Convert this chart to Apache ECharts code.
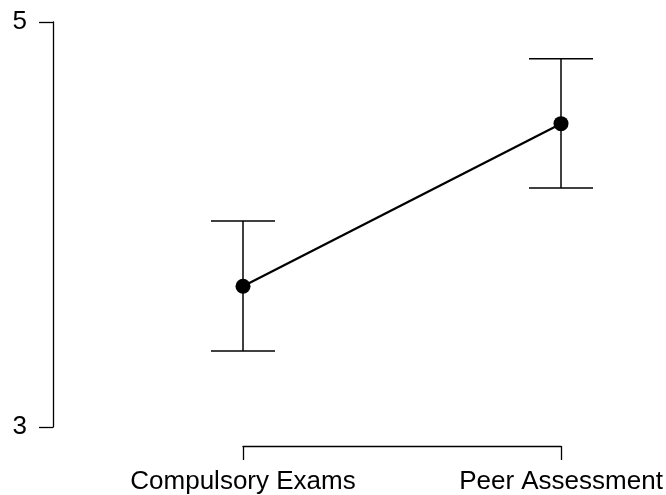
<!DOCTYPE html>
<html>
<head>
<meta charset="utf-8">
<script src="https://cdn.jsdelivr.net/npm/echarts@6/dist/echarts.min.js"></script>
<style>
  html, body { margin: 0; padding: 0; background: #fff; }
  #chart { width: 666px; height: 495px; }
</style>
</head>
<body>
<div id="chart"></div>
<script>
const categories = ['Compulsory Exams', 'Peer Assessment'];
const means = [3.695, 4.498];
const lowers = [3.375, 4.180];
const uppers = [4.017, 4.819];
const yTicks = [3, 5];

const chart = echarts.init(document.getElementById('chart'), null, { renderer: 'canvas' });
const font = 'Liberation Sans, Arial, sans-serif';

const errData = categories.map((c, i) => [i, lowers[i], uppers[i]]);

chart.setOption({
  animation: false,
  backgroundColor: '#ffffff',
  grid: { left: 243, width: 318, top: 22, height: 405 },
  xAxis: {
    type: 'category',
    data: categories,
    boundaryGap: false,
    offset: 19,
    axisLine: { show: true, lineStyle: { color: '#000', width: 1.3 } },
    axisTick: { show: true, length: 14, lineStyle: { color: '#000', width: 1.3 } },
    axisLabel: { fontSize: 26, color: '#000', fontFamily: font, margin: 23 },
    splitLine: { show: false }
  },
  yAxis: {
    type: 'value',
    min: yTicks[0],
    max: yTicks[1],
    interval: 2,
    offset: 190,
    axisLine: { show: true, lineStyle: { color: '#000', width: 1.3 } },
    axisTick: { show: true, length: 14, lineStyle: { color: '#000', width: 1.3 } },
    axisLabel: { fontSize: 26, color: '#000', fontFamily: font, margin: 26 },
    splitLine: { show: false }
  },
  series: [
    {
      type: 'custom',
      data: errData,
      renderItem: function (params, api) {
        const x = api.value(0);
        const lo = api.coord([x, api.value(1)]);
        const hi = api.coord([x, api.value(2)]);
        const hw = 32;
        const style = { stroke: '#000', lineWidth: 1.5 };
        return {
          type: 'group',
          children: [
            { type: 'line', shape: { x1: lo[0], y1: lo[1], x2: hi[0], y2: hi[1] }, style: style },
            { type: 'line', shape: { x1: lo[0] - hw, y1: lo[1], x2: lo[0] + hw, y2: lo[1] }, style: style },
            { type: 'line', shape: { x1: hi[0] - hw, y1: hi[1], x2: hi[0] + hw, y2: hi[1] }, style: style }
          ]
        };
      },
      z: 1
    },
    {
      type: 'line',
      data: means,
      symbol: 'circle',
      symbolSize: 15,
      itemStyle: { color: '#000' },
      lineStyle: { color: '#000', width: 2.2 },
      z: 2
    }
  ]
});
</script>
</body>
</html>
